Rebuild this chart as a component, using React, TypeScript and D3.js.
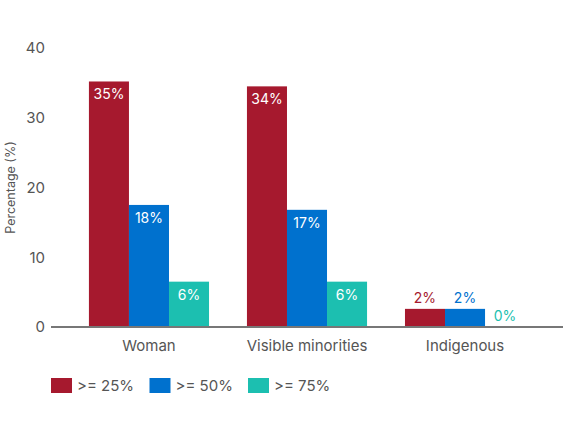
import React from 'react';
import * as d3 from 'd3';

const categories = ['Woman', 'Visible minorities', 'Indigenous'];
const seriesNames = ['>= 25%', '>= 50%', '>= 75%'];
const seriesColors = ['#A6192E', '#0071CE', '#1CBFB0'];
// values per series, in category order
const over25 = [35.2, 34.5, 2.6];
const over50 = [17.5, 16.8, 2.6];
const over75 = [6.5, 6.5, 0];
const valueLabels = [
  ['35%', '34%', '2%'],
  ['18%', '17%', '2%'],
  ['6%', '6%', '0%'],
];
const yTicks = [0, 10, 20, 30, 40];

const W = 575;
const H = 432;
const FONT = 'Inter, "Noto Sans", sans-serif';

const App: React.FC = () => {
  const series = [over25, over50, over75];

  const x0 = d3.scaleBand<string>()
    .domain(categories)
    .range([51, 563])
    .paddingInner(0.24)
    .paddingOuter(0.24);

  const x1 = d3.scaleBand<number>()
    .domain(d3.range(series.length))
    .range([0, x0.bandwidth()]);

  const y = d3.scaleLinear().domain([0, 40]).range([327, 48]);

  return (
    <svg width={W} height={H} style={{ position: 'absolute', left: 0, top: 0, background: '#fff' }} fontFamily={FONT}>
      {/* y ticks */}
      {yTicks.map(t => (
        <text key={t} x={45} y={y(t)} dy="0.35em" textAnchor="end" fontSize={15} fill="#555">{t}</text>
      ))}
      <text transform={`translate(15,${y(20)}) rotate(-90)`} textAnchor="middle" fontSize={12.5} fill="#555">Percentage (%)</text>

      {/* bars */}
      {categories.map((c, ci) => (
        <g key={c} transform={`translate(${x0(c)},0)`}>
          {series.map((s, si) => {
            const v = s[ci];
            const bx = x1(si)!;
            const bw = x1.bandwidth();
            const top = y(v);
            const small = y(0) - top < 30;
            return (
              <g key={si}>
                {v > 0 && <rect x={bx} y={top} width={bw} height={y(0) - top} fill={seriesColors[si]} />}
                <text
                  x={bx + bw / 2}
                  y={small ? top - 11 : top + 13}
                  dy="0.35em"
                  textAnchor="middle"
                  fontSize={14}
                  fill={small ? seriesColors[si] : '#fff'}
                >
                  {valueLabels[si][ci]}
                </text>
              </g>
            );
          })}
          <text x={x0.bandwidth() / 2} y={346} dy="0.35em" textAnchor="middle" fontSize={15} fill="#555">{c}</text>
        </g>
      ))}

      {/* x axis line */}
      <line x1={51} x2={563} y1={327} y2={327} stroke="#777" strokeWidth={2} />

      {/* legend */}
      {seriesNames.map((n, i) => (
        <g key={n} transform={`translate(${51 + i * 98.5},378)`}>
          <rect width={21} height={15} fill={seriesColors[i]} />
          <text x={26} y={7.5} dy="0.35em" fontSize={15} fill="#555">{n}</text>
        </g>
      ))}
    </svg>
  );
};

export default App;
